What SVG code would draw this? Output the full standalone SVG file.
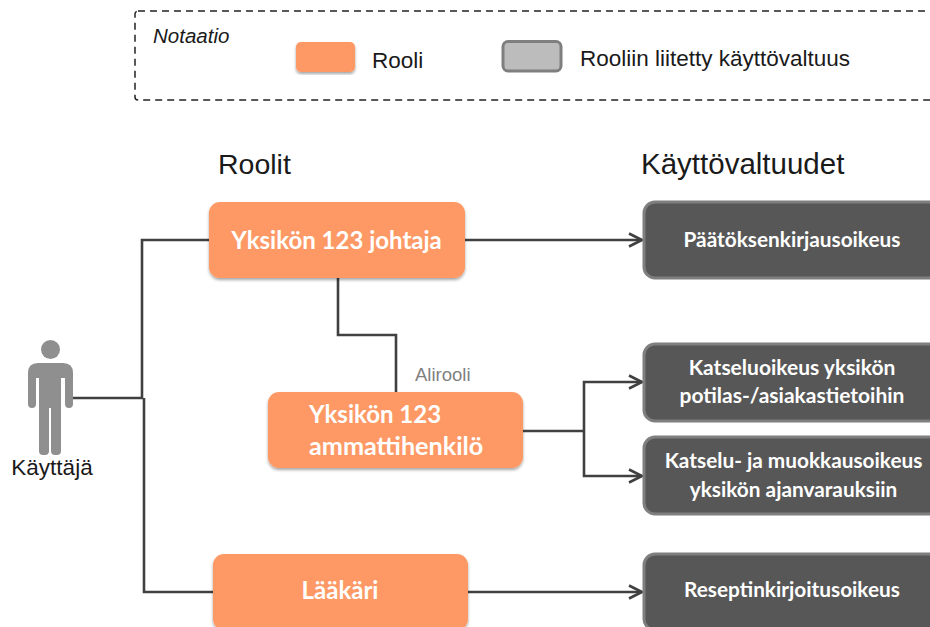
<svg xmlns="http://www.w3.org/2000/svg" width="930" height="627" viewBox="0 0 930 627">
<style>
.sans{font-family:"Liberation Sans",Arial,sans-serif;fill:#1a1a1a}
.lb{font-family:Lato,"Open Sans",sans-serif;font-weight:700;fill:#fff;text-anchor:middle}
.role{fill:#fe9966;filter:url(#sh)}
.perm{fill:#575757;stroke:#7f7f7f;stroke-width:3}
.c{fill:none;stroke:#404040;stroke-width:2.6}
</style>
<defs>
<filter id="sh" x="-5%" y="-5%" width="110%" height="115%"><feDropShadow dx="0" dy="2" stdDeviation="1.5" flood-color="#000" flood-opacity=".35"/></filter>
<marker id="a" markerUnits="userSpaceOnUse" markerWidth="18" markerHeight="18" refX="15" refY="9" orient="auto"><path d="M2 2.500L15 9L2 15.500" fill="none" stroke="#404040" stroke-width="2.600"/></marker>
</defs>
<rect width="930" height="627" fill="#fff"/>
<g id="notation">
<rect x="135" y="11" width="830" height="89" rx="3" fill="none" stroke="#222" stroke-width="1.500" stroke-dasharray="7 5"/>
<text class="sans" x="153" y="42.500" font-size="20.500" font-style="italic">Notaatio</text>
<rect x="296" y="42" width="59" height="30" rx="5" class="role"/>
<text class="sans" x="372" y="68" font-size="22.500">Rooli</text>
<rect x="503" y="41.500" width="58" height="29.500" rx="5" fill="#bcbcbc" stroke="#7f7f7f" stroke-width="3"/>
<text class="sans" x="580" y="66" font-size="22.500">Rooliin liitetty käyttövaltuus</text>
</g>
<text class="sans" x="218" y="174" font-size="28.500">Roolit</text>
<text class="sans" x="641" y="174" font-size="29.500">Käyttövaltuudet</text>
<g id="connectors">
<path class="c" d="M73 398H143"/>
<path class="c" d="M209 240H142V398"/>
<path class="c" d="M144 398V592H213"/>
<path class="c" d="M465 240H642" marker-end="url(#a)"/>
<path class="c" d="M338 278V335H396V392"/>
<path class="c" d="M523 431H584"/>
<path class="c" d="M584 431V382H642" marker-end="url(#a)"/>
<path class="c" d="M584 431V476H642" marker-end="url(#a)"/>
<path class="c" d="M468 592H642" marker-end="url(#a)"/>
</g>
<text class="sans" x="415" y="381" font-size="18.500" style="fill:#7f7f7f">Alirooli</text>
<g id="user">
<circle cx="50.500" cy="349.500" r="9.500" fill="#8f8f8f"/>
<path d="M38 363H63Q73 363 73 373V404Q73 408 69 408Q65 408 65 404V378H61V451Q61 455 57 455H55Q51 455 51 451V408H49V451Q49 455 45 455H43Q39 455 39 451V378H36V404Q36 408 32 408Q28 408 28 404V373Q28 363 38 363Z" fill="#8f8f8f"/>
<text class="sans" x="52" y="475" font-size="22.500" text-anchor="middle">Käyttäjä</text>
</g>
<g id="role-johtaja">
<rect x="209" y="202" width="256" height="76" rx="11" class="role"/>
<text class="lb" x="336.500" y="249" font-size="24">Yksikön 123 johtaja</text>
</g>
<g id="role-ammatti">
<rect x="268" y="392" width="255" height="76" rx="11" class="role"/>
<text class="lb" style="text-anchor:start"><tspan x="309" y="423" font-size="24">Yksikön 123</tspan><tspan x="309" y="455" font-size="25.200">ammattihenkilö</tspan></text>
</g>
<g id="role-laakari">
<rect x="213" y="554" width="255" height="76" rx="11" class="role"/>
<text class="lb" x="340" y="599" font-size="24">Lääkäri</text>
</g>
<g id="perm-1">
<rect x="644" y="202" width="300" height="76" rx="11" class="perm"/>
<text class="lb" x="792" y="247" font-size="20.800">Päätöksenkirjausoikeus</text>
</g>
<g id="perm-2">
<rect x="644" y="344" width="300" height="77" rx="11" class="perm"/>
<text class="lb" font-size="21"><tspan x="792" y="375">Katseluoikeus yksikön</tspan><tspan x="792" y="403">potilas-/asiakastietoihin</tspan></text>
</g>
<g id="perm-3">
<rect x="644" y="437" width="300" height="77" rx="11" class="perm"/>
<text class="lb" font-size="20.800"><tspan x="793.500" y="468">Katselu- ja muokkausoikeus</tspan><tspan x="793.500" y="497">yksikön ajanvarauksiin</tspan></text>
</g>
<g id="perm-4">
<rect x="644" y="554" width="300" height="76" rx="11" class="perm"/>
<text class="lb" x="792" y="597" font-size="20.800">Reseptinkirjoitusoikeus</text>
</g>
</svg>
